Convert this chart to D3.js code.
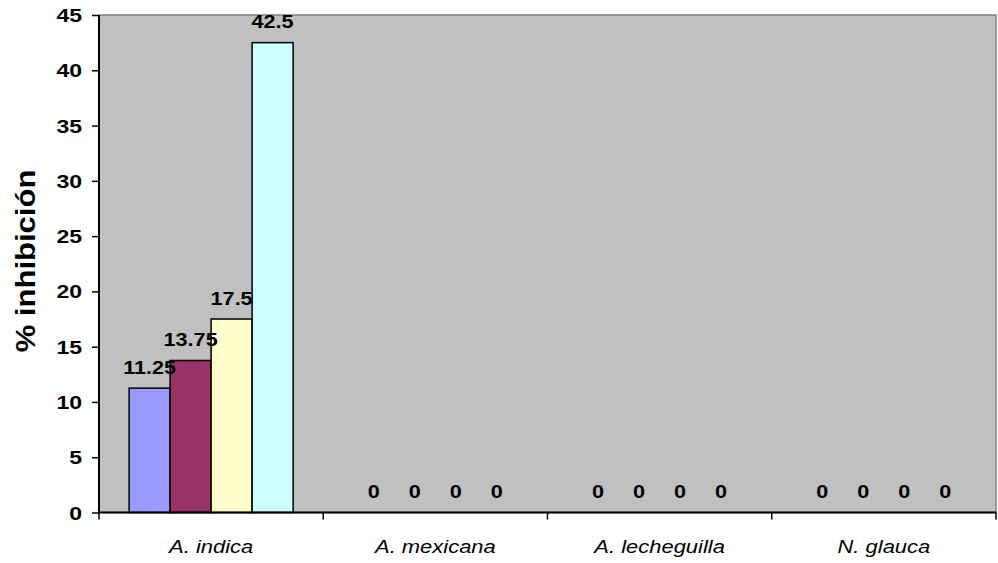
<!DOCTYPE html>
<html>
<head>
<meta charset="utf-8">
<script src="https://cdn.jsdelivr.net/npm/d3@7"></script>
<style>
  html, body { margin: 0; padding: 0; background: #ffffff; }
  svg { display: block; }
  text { font-family: Arial, "Liberation Sans", sans-serif; fill: #000; }
</style>
</head>
<body>
<svg id="chart" width="998" height="563"></svg>
<script>
// Inhibition (%) by species and treatment
const categories = ["A. indica", "A. mexicana", "A. lecheguilla", "N. glauca"];
const seriesNames = ["s1", "s2", "s3", "s4"];
const seriesColors = ["#9999FF", "#993366", "#FFFFCC", "#CCFFFF"];
const seriesValues = [
  [11.25, 0, 0, 0],
  [13.75, 0, 0, 0],
  [17.5, 0, 0, 0],
  [42.5, 0, 0, 0]
];
const yTicks = [0, 5, 10, 15, 20, 25, 30, 35, 40, 45];
const yTitle = "% inhibición";

const margin = { left: 99, top: 15, right: 2, bottom: 50.5 };
const width = 998, height = 563;
const innerW = width - margin.left - margin.right;
const innerH = height - margin.top - margin.bottom;

const svg = d3.select("#chart");
const g = svg.append("g").attr("transform", `translate(${margin.left},${margin.top})`);

const x0 = d3.scaleBand().domain(categories).range([0, innerW]);
const groupPad = 1.47 / (4 + 1.47);
const x1 = d3.scaleBand().domain(seriesNames)
  .range([x0.bandwidth() * groupPad / 2, x0.bandwidth() * (1 - groupPad / 2)]);
const y = d3.scaleLinear().domain([0, 45]).range([innerH, 0]);

// plot area
g.append("rect").attr("x", 0).attr("y", 0).attr("width", innerW).attr("height", innerH)
  .attr("fill", "#C0C0C0").attr("stroke", "#808080").attr("stroke-width", 1.5);

// flatten series into one list of cells
const cells = [];
seriesNames.forEach((s, si) => {
  categories.forEach((c, ci) => {
    cells.push({ s, si, c, v: seriesValues[si][ci] });
  });
});

// bars
g.append("g").selectAll("rect").data(cells.filter(d => d.v > 0)).enter().append("rect")
  .attr("x", d => x0(d.c) + x1(d.s)).attr("y", d => y(d.v))
  .attr("width", x1.bandwidth()).attr("height", d => y(0) - y(d.v))
  .attr("fill", d => seriesColors[d.si]).attr("stroke", "#000").attr("stroke-width", 1.5);

// value labels, drawn above all bars
g.append("g").selectAll("text").data(cells).enter().append("text")
  .attr("transform", d => `translate(${x0(d.c) + x1(d.s) + x1.bandwidth() / 2},${y(d.v) - 14.5}) scale(1.2,1)`)
  .attr("text-anchor", "middle")
  .attr("font-weight", "bold").attr("font-size", "18px")
  .text(d => String(d.v));

// y axis
const yAxis = d3.axisLeft(y).tickValues(yTicks).tickSize(7).tickFormat(d3.format("d"));
const ya = g.append("g").call(yAxis);
ya.attr("font-size", null).attr("font-family", null);
ya.select(".domain").attr("stroke", "#000").attr("stroke-width", 2).attr("d", `M0,0V${innerH}`);
ya.selectAll(".tick line").attr("stroke", "#000").attr("stroke-width", 1.5);
ya.selectAll(".tick text")
  .attr("x", null).attr("dy", null)
  .attr("transform", `translate(-17,6.5) scale(1.28,1)`)
  .attr("text-anchor", "end")
  .attr("font-size", "18px").attr("font-weight", "bold").attr("fill", "#000");

// x axis
const xa = g.append("g").attr("transform", `translate(0,${innerH})`);
xa.append("line").attr("x1", 0).attr("x2", innerW).attr("y1", 0).attr("y2", 0)
  .attr("stroke", "#000").attr("stroke-width", 2);
const bounds = [0, ...categories.map(c => x0(c) + x0.bandwidth())];
xa.selectAll(".xt").data(bounds).enter().append("line")
  .attr("x1", d => d).attr("x2", d => d).attr("y1", 0).attr("y2", 7)
  .attr("stroke", "#000").attr("stroke-width", 1.5);
xa.selectAll(".xl").data(categories).enter().append("text")
  .attr("transform", d => `translate(${x0(d) + x0.bandwidth() / 2},40.5) scale(1.22,1)`)
  .attr("text-anchor", "middle")
  .attr("font-style", "italic").attr("font-size", "18px")
  .text(d => d);

// y title
svg.append("text")
  .attr("transform", `translate(35,261) rotate(-90) scale(1.15,1)`)
  .attr("text-anchor", "middle")
  .attr("font-weight", "bold").attr("font-size", "27px")
  .text(yTitle);
</script>
</body>
</html>
